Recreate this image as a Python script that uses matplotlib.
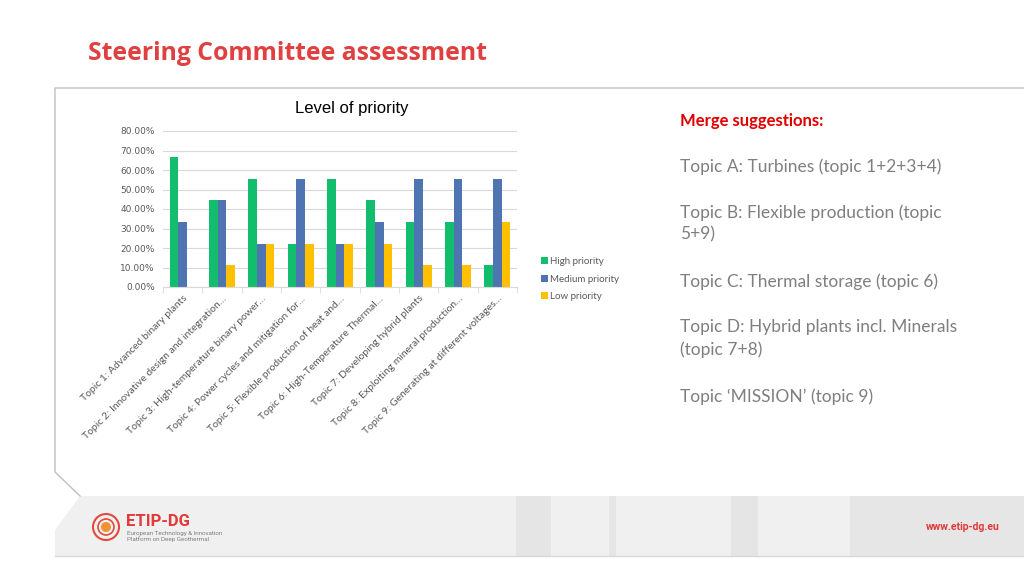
import numpy as np
import matplotlib
matplotlib.use('Agg')
import matplotlib.pyplot as plt
from matplotlib.patches import Rectangle, Polygon, Circle

# data (share of 9 votes)
topics = ['Topic 1: Advanced binary plants',
          'Topic 2: Innovative design and integration\u2026',
          'Topic 3: High-temperature binary power\u2026',
          'Topic 4: Power cycles and mitigation for\u2026',
          'Topic 5: Flexible production of heat and\u2026',
          'Topic 6: High-Temperature Thermal\u2026',
          'Topic 7: Developing hybrid plants',
          'Topic 8: Exploiting mineral production\u2026',
          'Topic 9: Generating at different voltages\u2026']
high = [66.67, 44.44, 55.56, 22.22, 55.56, 44.44, 33.33, 33.33, 11.11]
medium = [33.33, 44.44, 22.22, 55.56, 22.22, 33.33, 55.56, 55.56, 55.56]
low = [0.0, 11.11, 22.22, 22.22, 22.22, 22.22, 11.11, 11.11, 33.33]
series_names = ['High priority', 'Medium priority', 'Low priority']
series_colors = ['#12BE6E', '#4F74B2', '#FFC000']

merge_lines = ['Topic A: Turbines (topic 1+2+3+4)',
               'Topic B: Flexible production (topic\n5+9)',
               'Topic C: Thermal storage (topic 6)',
               'Topic D: Hybrid plants incl. Minerals\n(topic 7+8)',
               'Topic \u2018MISSION\u2019 (topic 9)']
merge_y = [165, 211, 280, 326, 395]

W, H = 1024, 576
fig = plt.figure(figsize=(W / 100, H / 100), dpi=100)

# page decoration in pixel coordinates
bg = fig.add_axes([0, 0, 1, 1], zorder=0)
bg.set_xlim(0, W)
bg.set_ylim(H, 0)
bg.axis('off')

# chart frame
bg.plot([1024, 55, 55, 80], [88, 88, 472, 496], color='#bfbfbf', lw=1)
# footer band
bg.add_patch(Polygon([[80, 496], [1024, 496], [1024, 556], [55, 556], [55, 530]],
                     closed=True, facecolor='#f0f0f0', edgecolor='none'))
for x0, x1 in [(516, 551), (609, 616), (731, 758)]:
    bg.add_patch(Rectangle((x0, 496), x1 - x0, 60, facecolor='#e5e5e5', edgecolor='none'))
bg.add_patch(Rectangle((850, 496), 174, 60, facecolor='#e6e6e6', edgecolor='none'))
bg.plot([55, 1024], [556, 556], color='#d8d8d8', lw=1)

# logo
bg.add_patch(Circle((106, 527), 13, facecolor='none', edgecolor='#e04a3f', lw=1.5))
bg.add_patch(Circle((106, 527), 8, facecolor='none', edgecolor='#e04a3f', lw=1.2))
bg.add_patch(Circle((106, 527), 5, facecolor='#f39230', edgecolor='none'))
bg.text(126, 521, 'ETIP-DG', color='#e03a3a', fontsize=12, fontweight='bold',
        family='Roboto', va='center', ha='left')
bg.text(127, 533, 'European Technology & Innovation', color='#7f7f7f', fontsize=4.5,
        family='Roboto', va='center', ha='left')
bg.text(127, 539, 'Platform on Deep Geothermal', color='#7f7f7f', fontsize=4.5,
        family='Roboto', va='center', ha='left')
bg.text(1000, 527, 'www.etip-dg.eu', color='#e03a3a', fontsize=7.5, fontweight='bold',
        family='Roboto', va='center', ha='right')

# slide title
bg.text(88, 54, 'Steering Committee assessment', color='#e04040', fontsize=17.8,
        fontweight='bold', family='Open Sans', va='center', ha='left')

# chart title
bg.text(352, 108, 'Level of priority', color='black', fontsize=12,
        family='Liberation Sans', va='center', ha='center')

# merge suggestions
bg.text(680, 121, 'Merge suggestions:', color='#e00000', fontsize=12,
        fontweight='bold', family='Lato', va='center', ha='left')
for txt, yy in zip(merge_lines, merge_y):
    bg.text(680, yy - 7, txt, color='#7f7f7f', fontsize=12.5, family='Lato',
            va='top', ha='left', linespacing=1.45)

# bar chart
ax = fig.add_axes([163 / W, 1 - 287 / H, (517 - 163) / W, (287 - 131) / H], zorder=1)
ax.patch.set_alpha(0)
x = np.arange(len(topics))
bw = 0.22
for i, (vals, name, col) in enumerate(zip([high, medium, low], series_names, series_colors)):
    ax.bar(x + (i - 1) * bw, vals, width=bw, color=col, label=name, zorder=2)

ax.set_xlim(-0.5, len(topics) - 0.5)
ax.set_ylim(0, 80)
ax.set_yticks(np.arange(0, 81, 10))
ax.set_yticklabels(['%.2f%%' % v for v in np.arange(0, 81, 10)])
ax.yaxis.grid(True, color='#d9d9d9', lw=0.8, zorder=0)
for s in ['top', 'right', 'left']:
    ax.spines[s].set_visible(False)
ax.spines['bottom'].set_color('#d9d9d9')
ax.tick_params(axis='y', length=0, labelsize=6.5, labelcolor='#595959', pad=6)
ax.set_xticks(x)
ax.set_xticklabels(topics, rotation=45, ha='right', rotation_mode='anchor',
                   fontsize=7.5, color='#595959', family='Lato')
ax.tick_params(axis='x', length=0, pad=5)
ax.set_xticks(np.arange(-0.5, len(topics), 1), minor=True)
ax.tick_params(axis='x', which='minor', length=4, color='#d9d9d9')

fig.legend(loc='upper left', bbox_to_anchor=(532 / W, 1 - 248 / H), frameon=False,
           fontsize=7, handlelength=0.7, handleheight=0.7, handletextpad=0.3,
           labelspacing=0.9, labelcolor='#595959', prop={'family': 'Lato', 'size': 7})

fig.savefig('out.png', dpi=100)
